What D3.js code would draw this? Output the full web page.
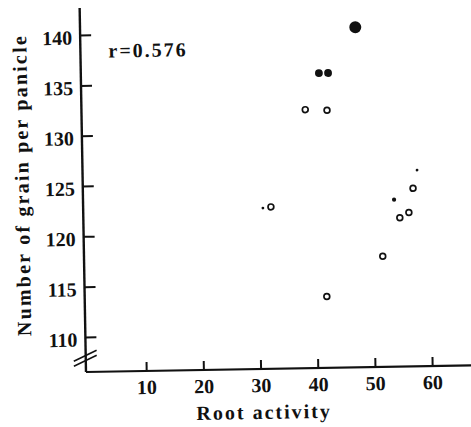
<!DOCTYPE html>
<html>
<head>
  <meta charset="UTF-8">
  <title>Root activity vs grain per panicle</title>
  <script src="https://d3js.org/d3.v7.min.js"></script>
  <style>
    body { margin: 0; background: #fff; }
    text { font-family: "Liberation Serif", serif; font-weight: bold; fill: #111; }
  </style>
</head>
<body>
  <div id="chart"></div>
  <script>
    // values
    const xTicks = [10, 20, 30, 40, 50, 60];
    const yTicks = [110, 115, 120, 125, 130, 135, 140];

    const openX = [38.6, 42.4, 57.2, 32.3, 54.8, 56.4, 51.7, 41.8];
    const openY = [132.2, 132.1, 124.2, 122.6, 121.3, 121.8, 117.5, 113.6];
    const solidX = [41.1, 42.7];
    const solidY = [135.8, 135.8];
    const largeX = [47.6];
    const largeY = [140.3];
    const smallX = [53.85];
    const smallY = [123.1];
    const dotX = [57.96, 30.9];
    const dotY = [126.0, 122.5];

    const corr = "r=0.576";

    const width = 471, height = 427;

    const svg = d3.select("#chart")
      .append("svg")
      .attr("width", width)
      .attr("height", height);

    // the scan is tilted slightly, so the whole plot frame is rotated
    const g = svg.append("g")
      .attr("transform", "translate(86,372) rotate(-1)");

    const x = d3.scaleLinear()
      .domain([0, 67])
      .range([3, 3 + 67 * 5.72]);

    const y = d3.scaleLinear()
      .domain([110, 140])
      .range([-35, -337]);

    // axis lines
    g.append("line")
      .attr("x1", 0).attr("y1", 0)
      .attr("x2", 0).attr("y2", -364)
      .attr("stroke", "#111").attr("stroke-width", 2.4);

    g.append("line")
      .attr("x1", 0).attr("y1", 0)
      .attr("x2", x(67)).attr("y2", 0)
      .attr("stroke", "#111").attr("stroke-width", 2.2);

    // axis break marks
    [-2.5, 2.5].forEach(function(off) {
      g.append("line")
        .attr("x1", -12).attr("y1", -14 + off + 5.5)
        .attr("x2", 11).attr("y2", -14 + off - 5)
        .attr("stroke", "#111").attr("stroke-width", 1.6);
    });

    const yAxis = g.append("g")
      .call(d3.axisLeft(y).tickValues(yTicks).tickSizeInner(-11).tickSizeOuter(0).tickPadding(8));
    yAxis.select(".domain").remove();
    yAxis.selectAll("line").attr("stroke", "#111").attr("stroke-width", 2);
    yAxis.selectAll("text")
      .attr("dy", "0.45em")
      .style("font-family", "Liberation Serif")
      .style("font-size", "20px");

    const xAxis = g.append("g")
      .call(d3.axisBottom(x).tickValues(xTicks).tickSizeInner(-9).tickSizeOuter(0).tickPadding(9));
    xAxis.select(".domain").remove();
    xAxis.selectAll("line").attr("stroke", "#111").attr("stroke-width", 2);
    xAxis.selectAll("text")
      .style("font-family", "Liberation Serif")
      .style("font-size", "20px");

    // axis titles
    g.append("text")
      .attr("x", x(30.5))
      .attr("y", 50)
      .attr("text-anchor", "middle")
      .style("font-size", "20px")
      .style("letter-spacing", "2px")
      .text("Root activity");

    g.append("text")
      .attr("transform", "translate(-54," + (-188) + ") rotate(-90)")
      .attr("text-anchor", "middle")
      .style("font-size", "20px")
      .style("letter-spacing", "2.2px")
      .text("Number of grain per panicle");

    g.append("text")
      .attr("x", 28)
      .attr("y", -314)
      .style("font-size", "20px")
      .style("letter-spacing", "2px")
      .text(corr);

    // markers
    const series = [
      { name: "open", xs: openX, ys: openY },
      { name: "solid", xs: solidX, ys: solidY },
      { name: "large", xs: largeX, ys: largeY },
      { name: "small", xs: smallX, ys: smallY },
      { name: "dot", xs: dotX, ys: dotY }
    ];
    const markStyle = {
      open: { r: 2.9, fill: "#fff", stroke: "#111", sw: 1.7 },
      solid: { r: 3.9, fill: "#111", stroke: "none", sw: 0 },
      large: { r: 6, fill: "#111", stroke: "none", sw: 0 },
      small: { r: 2.1, fill: "#111", stroke: "none", sw: 0 },
      dot: { r: 1.4, fill: "#111", stroke: "none", sw: 0 }
    };

    series.forEach(function(s) {
      const st = markStyle[s.name];
      g.selectAll(".pt-" + s.name)
        .data(s.xs.map((v, i) => ({ x: v, y: s.ys[i] })))
        .enter()
        .append("circle")
        .attr("class", "pt-" + s.name)
        .attr("cx", d => x(d.x))
        .attr("cy", d => y(d.y))
        .attr("r", st.r)
        .attr("fill", st.fill)
        .attr("stroke", st.stroke)
        .attr("stroke-width", st.sw);
    });
  </script>
</body>
</html>
